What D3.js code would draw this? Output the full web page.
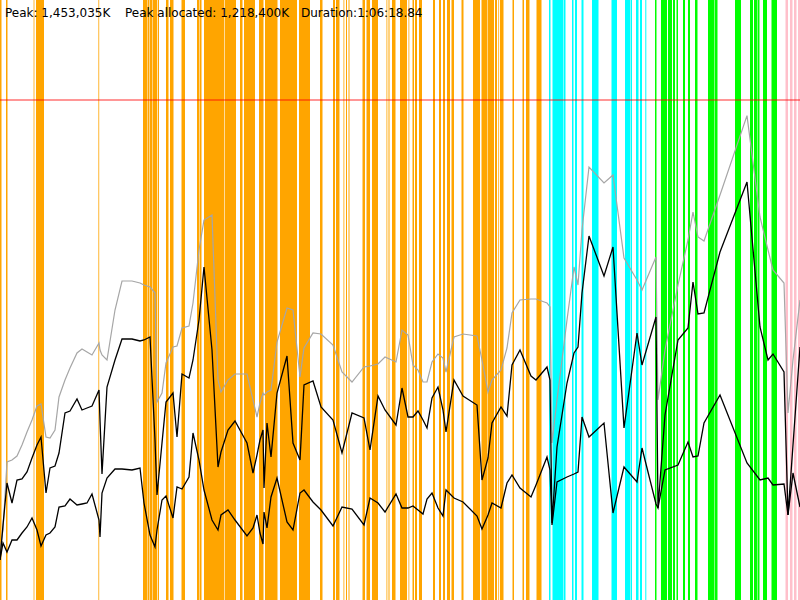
<!DOCTYPE html>
<html>
<head>
<meta charset="utf-8">
<script src="https://cdn.jsdelivr.net/npm/d3@7"></script>
<style>
  body { margin: 0; background: #fff; }
  svg { display: block; }
</style>
</head>
<body>
<script>
const w = 800;
const h = 600;

// header numbers
const peakK = 1453035;
const peakAllocK = 1218400;
const duration = '1:06:18.84';

// heap limit, MB
const heapLimit = 1500;

// run length in ticks
const totalTicks = 800;

// sample ticks
const ticks = [0, 3, 7, 12, 17, 22, 27, 32, 37, 41, 46, 50, 55, 59, 65, 70, 77, 82, 87, 92,
  99, 100, 102, 107, 115, 122, 132, 140, 144, 150, 155, 157, 162, 166, 173, 177, 182, 189, 193, 199,
  204, 212, 218, 221, 228, 235, 247, 253, 257, 260, 263, 264, 267, 271, 277, 287, 293, 300, 304, 313,
  321, 333, 342, 352, 364, 370, 378, 385, 396, 402, 408, 413, 418, 423, 427, 432, 438, 443, 446, 454,
  463, 477, 482, 488, 492, 501, 507, 512, 520, 531, 536, 547, 550, 552, 557, 567, 574, 578, 582, 589,
  604, 613, 624, 637, 642, 656, 658, 665, 678, 688, 693, 698, 704, 720, 747, 760, 768, 773, 784, 788,
  793, 800];

// reserved heap (grey), MB
const reserved = [150, 210, 414, 420, 432, 465, 504, 540, 582, 588, 489, 486, 510, 609, 660, 696, 741, 753, 744, 735,
  771, 750, 735, 720, 870, 957, 957, 951, 945, 939, 921, 594, 621, 711, 759, 762, 816, 822, 891, 1050,
  1140, 1155, 660, 624, 660, 678, 678, 600, 549, 591, 621, 615, 624, 630, 774, 876, 870, 669, 756, 801,
  798, 765, 684, 654, 699, 702, 708, 729, 714, 810, 795, 705, 690, 654, 654, 714, 738, 726, 684, 789,
  798, 792, 720, 624, 660, 690, 756, 861, 900, 903, 903, 891, 879, 471, 600, 840, 999, 945, 1110, 1299,
  1251, 1275, 1026, 960, 930, 1029, 600, 750, 945, 1080, 1164, 1089, 1077, 1215, 1453, 1149, 1050, 990, 951, 561,
  720, 900];

// allocated before GC (black), MB
const allocated = [120, 225, 351, 291, 360, 363, 384, 426, 465, 489, 321, 396, 402, 441, 561, 567, 603, 570, 576, 582,
  630, 540, 378, 639, 720, 783, 783, 777, 780, 789, 480, 315, 471, 594, 621, 489, 678, 666, 720, 840,
  999, 750, 399, 444, 510, 537, 471, 381, 435, 480, 510, 336, 531, 429, 621, 732, 471, 420, 645, 657,
  579, 540, 441, 561, 546, 450, 612, 570, 525, 636, 549, 549, 567, 540, 516, 606, 639, 570, 504, 660,
  612, 585, 360, 426, 531, 579, 552, 705, 750, 672, 660, 699, 660, 231, 459, 651, 741, 759, 921, 1092,
  972, 1059, 516, 801, 705, 849, 276, 555, 780, 816, 954, 858, 861, 1044, 1254, 819, 720, 738, 684, 255,
  465, 759];

// live after GC (black), MB
const live = [120, 171, 144, 180, 180, 201, 219, 246, 210, 162, 195, 201, 219, 279, 282, 303, 285, 288, 291, 318,
  240, 189, 321, 366, 393, 393, 390, 396, 291, 195, 159, 210, 300, 312, 246, 339, 333, 369, 501, 420,
  330, 240, 210, 255, 270, 240, 192, 216, 255, 201, 168, 264, 216, 309, 366, 234, 210, 321, 330, 294,
  270, 222, 279, 273, 225, 306, 291, 264, 318, 276, 276, 282, 270, 258, 303, 321, 276, 252, 330, 306,
  294, 252, 213, 255, 291, 276, 351, 375, 336, 309, 345, 429, 390, 225, 354, 369, 378, 384, 549, 489,
  531, 261, 399, 354, 456, 288, 276, 390, 405, 474, 429, 432, 531, 615, 411, 360, 366, 345, 348, 255,
  381, 279];

// phase spans [start, end] in ticks
const orangeSpans = [[0, 1.5], [6, 7.5], [33.6, 34.4], [36, 44], [98.4, 99.2], [143, 147.5], [148, 149.5],
  [150, 152.5], [153, 157], [157.7, 159], [166, 168.5], [170, 173.5], [181.5, 185], [197, 199.5],
  [200, 201.5], [204, 224], [224.6, 236], [240, 242.5], [244, 255], [259, 263.5], [265, 277.5],
  [280, 297], [299, 310], [320, 322.5], [333, 335], [336, 339.5], [343.5, 344.3], [346, 347], [348.5, 349.5],
  [362.5, 365], [366.5, 370], [372, 378], [386.5, 387.3], [388.5, 389.5], [392, 395.5],
  [400, 407], [408.5, 409.3], [412.5, 414], [415, 417], [419, 422], [433, 435], [439, 441], [443, 445],
  [447, 450], [451.5, 454], [461.5, 463.5], [473, 480], [481.5, 487], [487.5, 494], [495, 497],
  [498.3, 499.1], [500, 503.5], [512.5, 514], [522.5, 524], [526, 529.5], [536.5, 541.5]];
const cyanSpans = [[549, 550.5], [552.5, 563.5], [564, 565.5], [572, 573.5], [575, 577], [581.5, 583.5],
  [592, 598.5], [611.5, 617], [625, 630], [630.5, 632], [636, 638.5], [640, 642], [645.3, 646.3]];
const greenSpans = [[655, 656.5], [661, 667], [668, 672], [673, 675], [676.5, 678], [683, 685],
  [688, 690], [695, 697.5], [708, 714.5], [715, 717.5], [735, 741], [750, 753], [754, 757],
  [757.5, 759.5], [763, 767], [771.5, 777]];
const pinkSpans = [[785.5, 788], [790, 792.5], [794, 796.5], [798, 800]];

const svg = d3.select('body')
  .append('svg')
  .attr('width', w)
  .attr('height', h);

const x = d3.scaleLinear().domain([0, totalTicks]).range([0, w]);
const y = d3.scaleLinear().domain([0, heapLimit]).range([h, 100]);

const phases = [
  { spans: orangeSpans, color: 'orange' },
  { spans: cyanSpans, color: 'cyan' },
  { spans: greenSpans, color: 'lime' },
  { spans: pinkSpans, color: 'pink' }
];

for (let p of phases) {
  svg.append('g')
    .selectAll('rect')
    .data(p.spans)
    .enter()
    .append('rect')
    .attr('x', d => x(d[0]))
    .attr('y', 0)
    .attr('width', d => x(d[1]) - x(d[0]))
    .attr('height', h)
    .attr('fill', p.color);
}

const series = [
  { values: reserved, color: '#a6a6a6', width: 1.2 },
  { values: allocated, color: 'black', width: 1.3 },
  { values: live, color: 'black', width: 1.3 }
];

for (let s of series) {
  const line = d3.line()
    .x((d, i) => x(ticks[i]))
    .y(d => y(d));
  svg.append('path')
    .datum(s.values)
    .attr('d', line)
    .attr('fill', 'none')
    .attr('stroke', s.color)
    .attr('stroke-width', s.width)
    .attr('stroke-linejoin', 'miter');
}

// heap limit
svg.append('line')
  .attr('x1', 0)
  .attr('x2', w)
  .attr('y1', y(heapLimit))
  .attr('y2', y(heapLimit))
  .attr('stroke', 'red')
  .attr('stroke-opacity', 0.55)
  .attr('stroke-width', 1.5);

const fmt = d3.format(',');
const header = [
  { text: 'Peak: ' + fmt(peakK) + 'K', x: 5 },
  { text: 'Peak allocated: ' + fmt(peakAllocK) + 'K', x: 125 },
  { text: 'Duration:' + duration, x: 301 }
];

svg.selectAll('text.header')
  .data(header)
  .enter()
  .append('text')
  .attr('class', 'header')
  .attr('x', d => d.x)
  .attr('y', 17)
  .text(d => d.text)
  .style('font-family', 'DejaVu Sans, sans-serif')
  .style('font-size', '12px')
  .style('fill', 'black');
</script>
</body>
</html>
